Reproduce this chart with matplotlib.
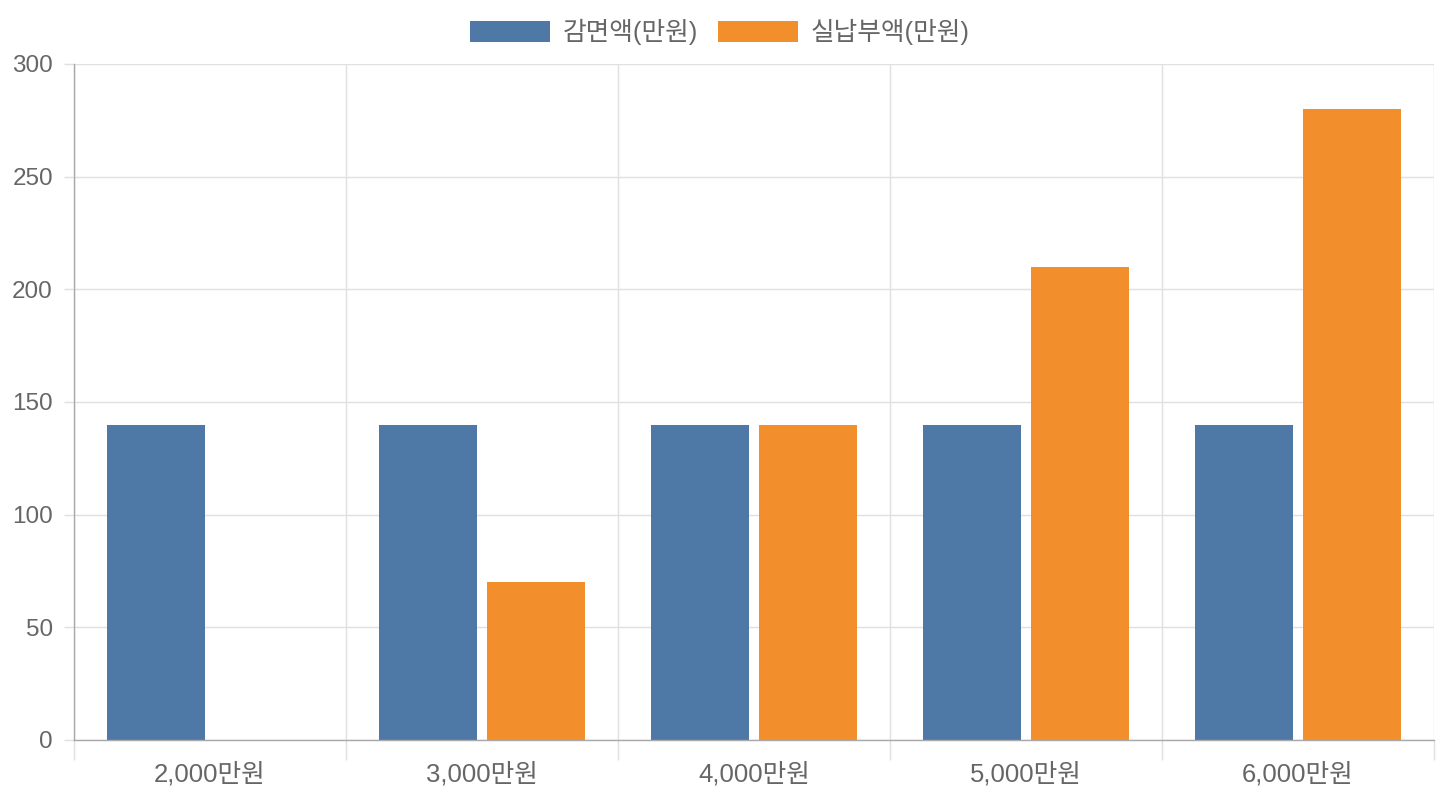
import numpy as np
import matplotlib.pyplot as plt

plt.rcParams['font.family'] = ['Liberation Sans', 'Noto Sans CJK KR']

categories = ['2,000만원', '3,000만원', '4,000만원', '5,000만원', '6,000만원']
reduction = [140, 140, 140, 140, 140]
payment = [0, 70, 140, 210, 280]
series_names = ['감면액(만원)', '실납부액(만원)']

text_color = '#666666'
grid_color = '#e0e0e0'
axis_color = '#a8a8a8'
fs = 18.5

fig = plt.figure(figsize=(14.4, 8), dpi=100)
ax = fig.add_axes([74 / 1440, 60 / 800, 1360 / 1440, 676 / 800])

x = np.arange(len(categories))
ax.bar(x - 0.2, reduction, width=0.36, color='#4e79a7', label=series_names[0], zorder=3)
ax.bar(x + 0.2, payment, width=0.36, color='#f28e2b', label=series_names[1], zorder=3)

ax.set_xlim(-0.5, len(categories) - 0.5)
ax.set_ylim(0, 300)
ax.set_yticks(np.arange(0, 301, 50))

ax.set_xticks(x)
ax.set_xticklabels(categories)
ax.set_xticks(np.arange(-0.5, len(categories)), minor=True)

ax.grid(True, axis='y', which='major', color=grid_color, linewidth=1, zorder=0)
ax.grid(True, axis='x', which='minor', color=grid_color, linewidth=1, zorder=0)
ax.grid(False, axis='x', which='major')

ax.tick_params(axis='x', which='major', length=0, pad=16, labelsize=fs, labelcolor=text_color)
ax.tick_params(axis='x', which='minor', length=14.4, width=1, color=grid_color)
ax.tick_params(axis='y', which='major', length=7.2, width=1, color=grid_color, pad=8,
               labelsize=17.5, labelcolor=text_color)

for side in ['top', 'right']:
    ax.spines[side].set_visible(False)
for side in ['left', 'bottom']:
    ax.spines[side].set_color(axis_color)
    ax.spines[side].set_linewidth(1)
    ax.spines[side].set_zorder(4)

leg = fig.legend(loc='center', bbox_to_anchor=(720 / 1440, 1 - 32 / 800), ncol=2, frameon=False,
                 fontsize=fs, handlelength=3.1, handleheight=0.9, handletextpad=0.5,
                 columnspacing=0.8)
for t in leg.get_texts():
    t.set_color(text_color)

fig.savefig('out.png', dpi=100)
